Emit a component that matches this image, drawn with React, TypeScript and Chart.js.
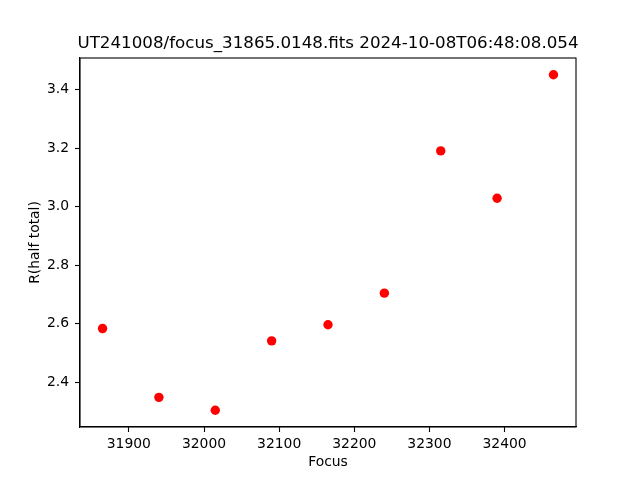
import React, { useEffect, useRef } from "react";
import { Chart, registerables } from "chart.js";

Chart.register(...registerables);

const TITLE = "UT241008/focus_31865.0148.fits 2024-10-08T06:48:08.054";
const X_LABEL = "Focus";
const Y_LABEL = "R(half total)";

const focusValues = [31865, 31940, 32015, 32090, 32165, 32240, 32315, 32390, 32465];
const radiusValues = [2.584, 2.349, 2.305, 2.542, 2.597, 2.705, 3.191, 3.029, 3.451];

const xTicks = [31900, 32000, 32100, 32200, 32300, 32400];
const yTicks = [2.4, 2.6, 2.8, 3.0, 3.2, 3.4];

const FONT = "'DejaVu Sans', sans-serif";

function paddedRange(vals: number[]) {
  const mn = Math.min(...vals);
  const mx = Math.max(...vals);
  const m = (mx - mn) * 0.05;
  return [mn - m, mx + m];
}

const textPlugin = {
  id: "mplText",
  afterDraw(chart: any) {
    const { ctx, chartArea } = chart;
    const { left, right, top, bottom } = chartArea;
    ctx.save();
    ctx.strokeStyle = "#000";
    ctx.lineWidth = 1.1;
    ctx.strokeRect(left, top, right - left, bottom - top);
    ctx.fillStyle = "#000";
    ctx.textAlign = "center";
    ctx.textBaseline = "middle";
    ctx.font = `16.7px ${FONT}`;
    ctx.fillText(TITLE, (left + right) / 2, 44);
    ctx.font = `13.9px ${FONT}`;
    ctx.fillText(X_LABEL, (left + right) / 2, 462);
    ctx.translate(35, (top + bottom) / 2);
    ctx.rotate(-Math.PI / 2);
    ctx.fillText(Y_LABEL, 0, 0);
    ctx.restore();
  },
};

export default function App() {
  const ref = useRef<HTMLCanvasElement | null>(null);
  useEffect(() => {
    if (!ref.current) return;
    const [xMin, xMax] = paddedRange(focusValues);
    const [yMin, yMax] = paddedRange(radiusValues);
    const chart = new Chart(ref.current, {
      type: "scatter",
      data: {
        datasets: [
          {
            data: focusValues.map((x, i) => ({ x, y: radiusValues[i] })),
            backgroundColor: "#ff0000",
            borderColor: "#ff0000",
            borderWidth: 0,
            pointRadius: 4.7,
            pointHoverRadius: 4.7,
          },
        ],
      },
      options: {
        animation: false,
        responsive: false,
        layout: { padding: { top: 58, left: 0, right: 64, bottom: 0 } },
        plugins: { legend: { display: false }, tooltip: { enabled: false }, title: { display: false } },
        scales: {
          x: {
            type: "linear",
            min: xMin,
            max: xMax,
            afterBuildTicks: (s: any) => {
              s.ticks = xTicks.map((v) => ({ value: v }));
            },
            afterFit: (s: any) => {
              s.height = 53;
            },
            grid: { display: true, drawOnChartArea: false, drawTicks: true, tickLength: 5, tickWidth: 1.1, tickColor: "#000" },
            border: { display: true, color: "#000", width: 1.1 },
            ticks: {
              color: "#000",
              font: { family: FONT, size: 13.9 },
              padding: 4,
              maxRotation: 0,
              autoSkip: false,
              callback: (v: any) => String(v),
            },
          },
          y: {
            type: "linear",
            min: yMin,
            max: yMax,
            afterBuildTicks: (s: any) => {
              s.ticks = yTicks.map((v) => ({ value: v }));
            },
            afterFit: (s: any) => {
              s.width = 80;
            },
            grid: { display: true, drawOnChartArea: false, drawTicks: true, tickLength: 5, tickWidth: 1.1, tickColor: "#000" },
            border: { display: true, color: "#000", width: 1.1 },
            ticks: {
              color: "#000",
              font: { family: FONT, size: 13.9 },
              padding: 6,
              autoSkip: false,
              callback: (v: any) => Number(v).toFixed(1),
            },
          },
        },
      },
      plugins: [textPlugin],
    });
    return () => chart.destroy();
  }, []);
  return (
    <div style={{ position: "fixed", left: 0, top: 0, width: 640, height: 480, background: "#fff" }}>
      <canvas ref={ref} width={640} height={480} style={{ display: "block" }} />
    </div>
  );
}
